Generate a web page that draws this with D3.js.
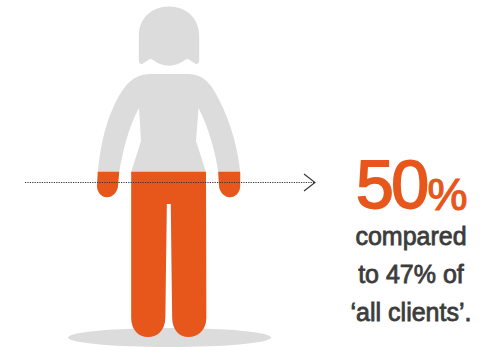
<!DOCTYPE html>
<html>
<head>
<meta charset="utf-8">
<script src="https://cdn.jsdelivr.net/npm/d3@7"></script>
<style>
html,body{margin:0;padding:0;background:#fff}
svg{display:block}
text{font-family:"Liberation Sans",Arial,sans-serif}
</style>
</head>
<body>
<svg id="chart" width="484" height="347"></svg>
<script>
// Share of the group, and the figure it is compared with (percent)
const shareValues = [50];
const comparisonValues = [47];
const captionLines = ["compared", d => `to ${d}% of`, "‘all clients’."];

const ORANGE = "#e7571b", GREY = "#dcdcdc", INK = "#3c3c3c";

const svg = d3.select("#chart");

// Percent of body height: 0 at the soles, 100 at the crown
const y = d3.scaleLinear().domain([0, 100]).range([337, 6.5]);

// Person pictogram outline
const person = [
  // head and hair
  "M138.8 36 C138.8 18 152 6.5 169 6.5 C186 6.5 199.2 18 199.2 36 L199.2 60",
  "C199.2 64 196.5 65 194.5 63.3 L189 59.5 C187.5 58.5 186.5 58.8 185 60",
  "C175 67.5 163 67.5 153 60 C151.5 58.8 150.5 58.5 149 59.5 L143.5 63.3",
  "C141.5 65 138.8 64 138.8 60 Z",
  // torso, arms and legs
  "M150 74 L188 74 C206 74 214 88 223 108 C232 128 238 150 240.2 172",
  "L240.2 186 C240.2 192 235.5 197.3 230 197.3 C224.5 197.3 219.5 192 219 186",
  "L218.2 172 C216 155 209 128 198.5 108 L196 141 L206 172 L206.3 318",
  "C206.3 330 198 337 188.5 337 C179 337 172.5 330 172.2 318 L170.8 204",
  "L166.8 204 L165.3 318 C165 330 158 337 148 337 C138.5 337 131.4 330 131.2 318",
  "L131.2 172 L141 141 L139 108 C128 128 122 155 119.2 172 L118 186",
  "C117.5 192 112.5 197.3 107 197.3 C101.5 197.3 97 192 97 186",
  "L97.8 172 C100 150 104 128 113 108 C122 88 132 74 150 74 Z"
].join(" ");

const defs = svg.append("defs");
defs.append("clipPath").attr("id", "share-clip")
  .append("rect")
  .attr("x", 0).attr("width", 484)
  .attr("y", y(shareValues[0]))
  .attr("height", y(0) - y(shareValues[0]) + 1);

// Ground shadow
svg.append("ellipse")
  .attr("cx", 169.5).attr("cy", 337.5)
  .attr("rx", 101.5).attr("ry", 9.5)
  .attr("fill", GREY);

// Whole figure in grey, then the share filled from the feet up
svg.append("path").attr("d", person).attr("fill", GREY);
svg.append("path").attr("d", person).attr("fill", ORANGE)
  .attr("clip-path", "url(#share-clip)");

// Pointer running from the fill level to the figure's label
const pointerY = 182.5;
svg.append("line")
  .attr("x1", 25).attr("x2", 314.5)
  .attr("y1", pointerY).attr("y2", pointerY)
  .attr("stroke", "#333").attr("stroke-width", 1.2)
  .attr("stroke-dasharray", "1.2 1.2");
svg.append("path")
  .attr("d", d3.line()([[304, pointerY - 8.5], [315, pointerY], [304, pointerY + 8.5]]))
  .attr("fill", "none").attr("stroke", "#333").attr("stroke-width", 1.1);

// Headline figure
const headline = svg.append("text")
  .attr("x", 356).attr("y", 208)
  .attr("fill", ORANGE);
headline.append("tspan")
  .attr("font-size", 68).attr("letter-spacing", -2.6)
  .attr("stroke", ORANGE).attr("stroke-width", 1.8)
  .text(shareValues[0]);
headline.append("tspan")
  .attr("font-size", 45).attr("dy", 2).attr("dx", 1)
  .attr("stroke", ORANGE).attr("stroke-width", 1.2)
  .text("%");

// Caption beneath the figure
svg.append("g").selectAll("text")
  .data(captionLines)
  .join("text")
  .attr("x", 411)
  .attr("y", (d, i) => 245 + i * 38)
  .attr("text-anchor", "middle")
  .attr("font-size", 25)
  .attr("fill", INK)
  .attr("stroke", INK).attr("stroke-width", 0.8)
  .text(d => typeof d === "function" ? d(comparisonValues[0]) : d);
</script>
</body>
</html>
